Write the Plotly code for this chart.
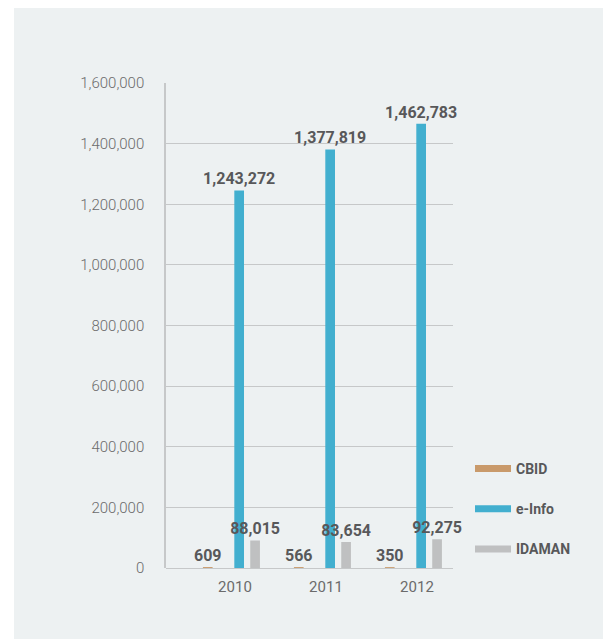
import plotly.graph_objects as go

# Channel usage per year
years = ["2010", "2011", "2012"]
cbid = [609, 566, 350]
einfo = [1243272, 1377819, 1462783]
idaman = [88015, 83654, 92275]

series_names = ["CBID", "e-Info", "IDAMAN"]
series_values = [cbid, einfo, idaman]
series_colors = ["#c99a6b", "#42afcf", "#bfc0c1"]
# left edge of each series' bar relative to the category centre (category units)
series_offsets = [-0.30, 0.045, 0.22]
bar_width = 0.09

y_ticks = [0, 200000, 400000, 600000, 800000, 1000000, 1200000, 1400000, 1600000]

W, H = 603, 639
ML, MR, MT, MB = 166, 150, 83, 71
plot_w = W - ML - MR
plot_h = H - MT - MB

fig = go.Figure()

for name, vals, col, off in zip(series_names, series_values, series_colors, series_offsets):
    fig.add_trace(go.Bar(
        x=years, y=vals, name=name,
        marker=dict(color=col, line=dict(color=col, width=1.5)),
        width=bar_width, offset=off,
        text=[f"{v:,}" for v in vals],
        textposition="outside",
        constraintext="none",
        cliponaxis=False,
        outsidetextfont=dict(family="Roboto", size=16, color="#58585a", weight="bold"),
        showlegend=False,
    ))

# legend swatches drawn as thick line keys
for name, col in zip(series_names, series_colors):
    fig.add_trace(go.Scatter(
        x=[None], y=[None], mode="lines", name=name,
        line=dict(color=col, width=7),
        legendgroup=name, showlegend=True,
    ))

# page background: white frame with a light panel
def px_x(p):
    return (p - ML) / plot_w

def px_y(p):
    return (H - MB - p) / plot_h

fig.add_shape(type="rect", xref="paper", yref="paper",
              x0=px_x(0), x1=px_x(14), y0=px_y(H), y1=px_y(0),
              fillcolor="white", line=dict(width=0), layer="below")
fig.add_shape(type="rect", xref="paper", yref="paper",
              x0=px_x(0), x1=px_x(W), y0=px_y(8), y1=px_y(0),
              fillcolor="white", line=dict(width=0), layer="below")

fig.update_layout(
    width=W, height=H,
    margin=dict(l=ML, r=MR, t=MT, b=MB),
    paper_bgcolor="#edf1f2",
    plot_bgcolor="rgba(0,0,0,0)",
    font=dict(family="Roboto", color="#6b6b6b"),
    legend=dict(
        x=px_x(470), y=px_y(453), xanchor="left", yanchor="top",
        bgcolor="rgba(0,0,0,0)",
        font=dict(family="Roboto", size=14, color="#58585a", weight="bold"),
        tracegroupgap=19,
        itemwidth=36,
    ),
    xaxis=dict(
        type="category",
        range=[-0.714, 2.44],
        showgrid=False,
        showline=False,
        zeroline=False,
        ticks="",
        ticklabelshift=4,
        ticklabelstandoff=8,
        tickfont=dict(family="Roboto", size=15, color="#6b6b6b"),
    ),
    yaxis=dict(
        range=[0, 1600000],
        tickvals=y_ticks,
        tickformat=",",
        showgrid=True,
        gridcolor="#c6c8c9",
        gridwidth=1,
        zeroline=True,
        zerolinecolor="#c6c8c9",
        zerolinewidth=1,
        showline=True,
        linecolor="#c6c8c9",
        linewidth=1.5,
        ticks="",
        ticklabelstandoff=17,
        tickfont=dict(family="Roboto", size=15, color="#6b6b6b", weight=300),
    ),
)

fig.write_html("out.html")
